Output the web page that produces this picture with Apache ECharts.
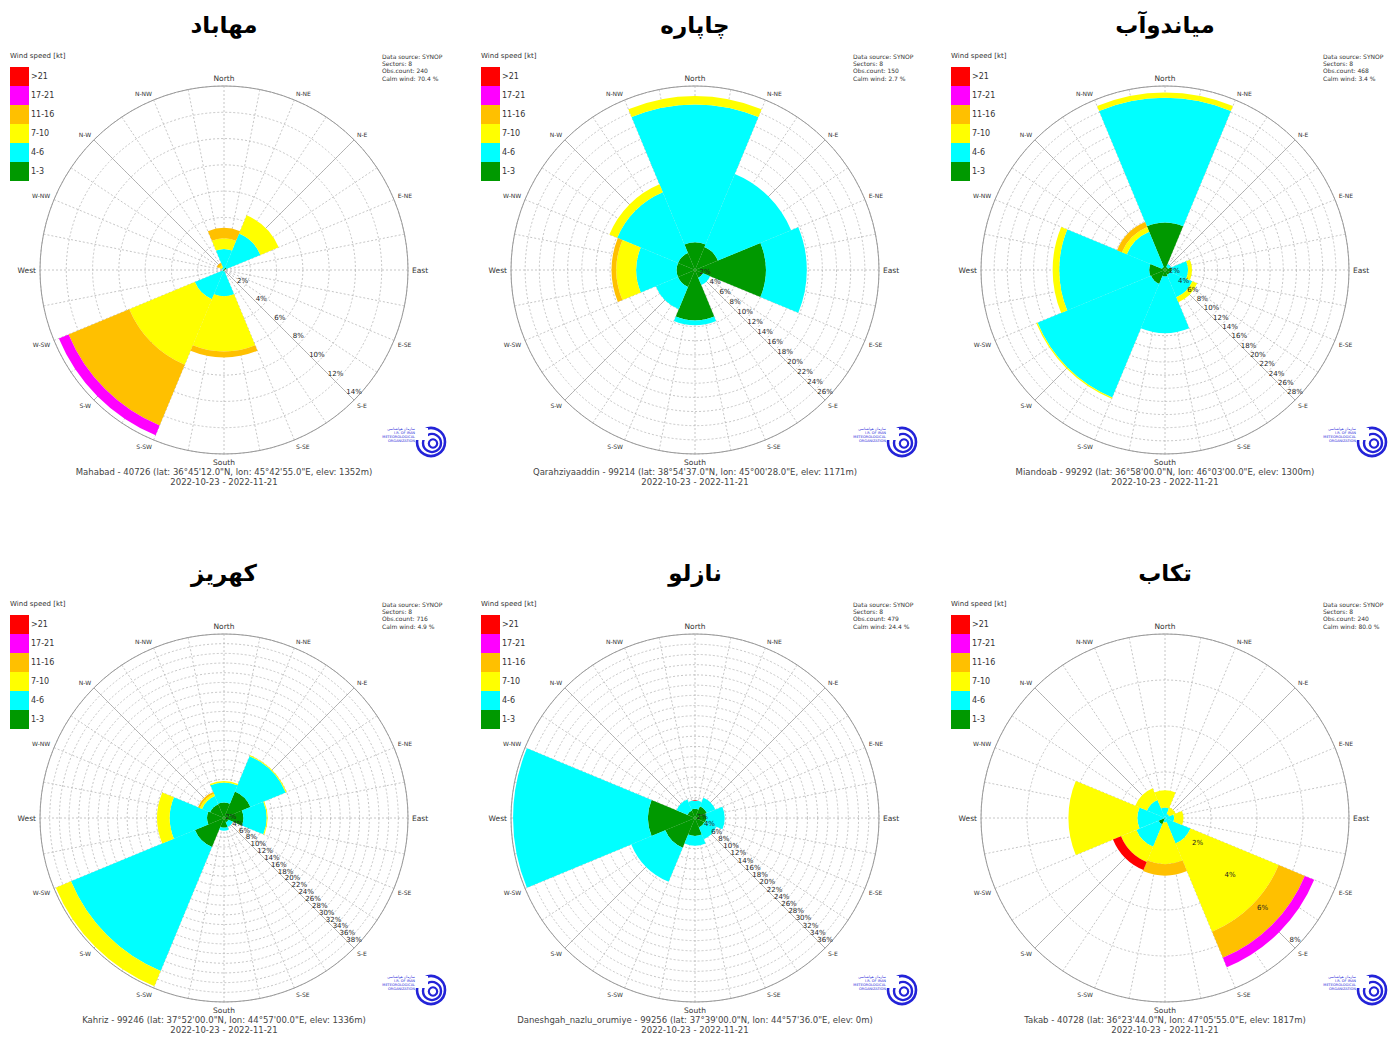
<!DOCTYPE html>
<html><head><meta charset="utf-8">
<script src="https://cdn.jsdelivr.net/npm/echarts@6.0.0/dist/echarts.min.js"></script>
<style>html,body{margin:0;padding:0;background:#fff}#c{width:1388px;height:1046px}</style>
</head><body><div id="c"></div>
<script>
// ---- categories / labels ----
const directions = ['N','NE','E','SE','S','SW','W','NW'];
const compassLabels = ['North','N-NE','N-E','E-NE','East','E-SE','S-E','S-SE','South','S-SW','S-W','W-SW','West','W-NW','N-W','N-NW'];
const speedClasses = ['1-3','4-6','7-10','11-16','17-21','>21'];
const speedColors = ['#009900','#00ffff','#ffff00','#ffc000','#ff00ff','#ff0000'];

const titles = ['مهاباد','چاپاره','میاندوآب','کهریز','نازلو','تکاب'];
const stationLines = [
  'Mahabad - 40726 (lat: 36°45\'12.0"N, lon: 45°42\'55.0"E, elev: 1352m)',
  'Qarahziyaaddin - 99214 (lat: 38°54\'37.0"N, lon: 45°00\'28.0"E, elev: 1171m)',
  'Miandoab - 99292 (lat: 36°58\'00.0"N, lon: 46°03\'00.0"E, elev: 1300m)',
  'Kahriz - 99246 (lat: 37°52\'00.0"N, lon: 44°57\'00.0"E, elev: 1336m)',
  'Daneshgah_nazlu_orumiye - 99256 (lat: 37°39\'00.0"N, lon: 44°57\'36.0"E, elev: 0m)',
  'Takab - 40728 (lat: 36°23\'44.0"N, lon: 47°05\'55.0"E, elev: 1817m)'
];
const dateRange = '2022-10-23 - 2022-11-21';
const obsCounts = [240, 150, 468, 716, 479, 240];
const calmWinds = ['70.4', '2.7', '3.4', '4.9', '24.4', '80.0'];
const radiusMax = [14, 26, 28, 38, 36, 8];   // outer ring value (%), tick labels every 2%

// ---- frequencies (%) per sector N,NE,E,SE,S,SW,W,NW ----
const mahabad_1_3   = [0.1, 0.2, 0, 0, 0.1, 0.1, 0, 0];
const mahabad_4_6   = [1.5, 2.8, 0, 0, 1.9, 2.3, 0.1, 0.2];
const mahabad_7_10  = [0.8, 1.5, 0, 0, 4.2, 5.4, 0, 0.2];
const mahabad_11_16 = [0.8, 0, 0, 0, 0.45, 5.0, 0, 0.2];
const mahabad_17_21 = [0, 0, 0, 0, 0, 0.8, 0, 0];
const mahabad_21p   = [0, 0, 0, 0, 0, 0, 0, 0];

const chapareh_1_3   = [3.9, 3.5, 10.0, 1.2, 7.1, 2.6, 2.6, 2.6];
const chapareh_4_6   = [19.5, 11.2, 5.8, 1.1, 0.7, 3.4, 5.7, 9.3];
const chapareh_7_10  = [1.2, 0, 0, 0, 0, 0, 2.8, 1.2];
const chapareh_11_16 = [0, 0, 0, 0, 0, 0, 0.7, 0];
const chapareh_17_21 = [0, 0, 0, 0, 0, 0, 0, 0];
const chapareh_21p   = [0, 0, 0, 0, 0, 0, 0, 0];

const miandoab_1_3   = [7.2, 0.5, 1.0, 0.8, 1.0, 2.3, 2.4, 0.5];
const miandoab_4_6   = [19.0, 0.5, 2.5, 3.7, 8.6, 18.7, 13.7, 5.8];
const miandoab_7_10  = [0.8, 0, 0.6, 0.8, 0, 0.2, 1.0, 0.8];
const miandoab_11_16 = [0, 0, 0, 0, 0, 0, 0, 0.8];
const miandoab_17_21 = [0, 0, 0, 0, 0, 0, 0, 0];
const miandoab_21p   = [0, 0, 0, 0, 0, 0, 0, 0];

const kahriz_1_3   = [3.2, 5.9, 4.0, 1.0, 2.0, 6.5, 3.5, 3.1];
const kahriz_4_6   = [4.1, 7.9, 4.8, 1.0, 0.6, 27.7, 7.7, 1.8];
const kahriz_7_10  = [0.3, 0.2, 0.2, 0, 0, 3.4, 2.6, 0.5];
const kahriz_11_16 = [0, 0, 0, 0, 0, 0, 0, 0.4];
const kahriz_17_21 = [0, 0, 0, 0, 0, 0, 0, 0];
const kahriz_21p   = [0, 0, 0, 0, 0, 0, 0, 0];

const nazlu_1_3   = [1.8, 2.5, 2.2, 2.0, 3.5, 6.3, 9.2, 1.6];
const nazlu_4_6   = [1.6, 1.8, 3.6, 2.5, 1.9, 7.2, 26.4, 2.3];
const nazlu_7_10  = [0, 0, 0, 0, 0, 0, 0, 0];
const nazlu_11_16 = [0, 0, 0, 0, 0, 0, 0, 0];
const nazlu_17_21 = [0, 0, 0, 0, 0, 0, 0, 0];
const nazlu_21p   = [0, 0, 0, 0, 0, 0, 0, 0];

const takab_1_3   = [0, 0, 0, 0, 0, 0.3, 0, 0];
const takab_4_6   = [0.45, 0.2, 0.4, 1.2, 0.2, 1.05, 1.2, 0.85];
const takab_7_10  = [0.75, 0.3, 0.4, 4.15, 1.8, 0.72, 3.0, 0.55];
const takab_11_16 = [0, 0, 0, 1.23, 0.5, 0, 0, 0];
const takab_17_21 = [0, 0, 0, 0.44, 0, 0, 0, 0];
const takab_21p   = [0, 0, 0, 0, 0, 0.38, 0, 0];

const stationData = [
  [mahabad_1_3, mahabad_4_6, mahabad_7_10, mahabad_11_16, mahabad_17_21, mahabad_21p],
  [chapareh_1_3, chapareh_4_6, chapareh_7_10, chapareh_11_16, chapareh_17_21, chapareh_21p],
  [miandoab_1_3, miandoab_4_6, miandoab_7_10, miandoab_11_16, miandoab_17_21, miandoab_21p],
  [kahriz_1_3, kahriz_4_6, kahriz_7_10, kahriz_11_16, kahriz_17_21, kahriz_21p],
  [nazlu_1_3, nazlu_4_6, nazlu_7_10, nazlu_11_16, nazlu_17_21, nazlu_21p],
  [takab_1_3, takab_4_6, takab_7_10, takab_11_16, takab_17_21, takab_21p]
];

// ---- layout ----
const centersX = [224, 695, 1165];
const centersY = [270, 818];
const R = 184;
const FONT = '"DejaVu Sans", sans-serif';

const option = {
  animation: false,
  textStyle: { fontFamily: FONT },
  polar: [], angleAxis: [], radiusAxis: [], series: [], legend: [], graphic: []
};

const dashed = { color: '#b8b8b8', type: [2, 2], width: 0.8 };

function txt(x, y, text, size, opts) {
  opts = opts || {};
  return {
    type: 'text', x: x, y: y, silent: true, z: 20,
    style: {
      text: text, fill: opts.fill || '#333',
      font: (opts.weight || 'normal') + ' ' + size + 'px ' + (opts.family || FONT),
      align: opts.align || 'left', verticalAlign: 'middle',
      textAlign: opts.align || 'left', textVerticalAlign: 'middle'
    }
  };
}

for (let i = 0; i < 6; i++) {
  const cx = centersX[i % 3], cy = centersY[Math.floor(i / 3)];
  const M = radiusMax[i];
  const b = i * 4;
  option.polar.push({ center: [cx, cy], radius: R });
  option.polar.push({ center: [cx, cy], radius: R });
  option.polar.push({ center: [cx, cy], radius: R });
  option.polar.push({ center: [cx, cy - 8], radius: R });   // label polar, text sits just above the SE spoke

  // polar A: dashed spokes, rings, outer circle, direction labels
  option.angleAxis.push({
    polarIndex: b, type: 'value', min: 0, max: 360, interval: 11.25, startAngle: 90, clockwise: true,
    axisLine: { show: true, lineStyle: { color: '#9a9a9a', width: 1 } },
    axisTick: { show: false },
    splitLine: { show: true, lineStyle: dashed },
    axisLabel: {
      show: true, margin: 4, color: '#333',
      formatter: function (v) {
        const idx = Math.round(v / 11.25);
        if (idx % 2 !== 0 || idx >= 32) return '';
        const name = compassLabels[idx / 2];
        return (idx % 8 === 0) ? '{c|' + name + '}' : '{s|' + name + '}';
      },
      rich: { c: { fontSize: 7.5, color: '#333', fontFamily: FONT }, s: { fontSize: 6, color: '#333', fontFamily: FONT } }
    }
  });
  option.radiusAxis.push({
    polarIndex: b, type: 'value', min: 0, max: M, interval: 2,
    axisLine: { show: false }, axisTick: { show: false }, axisLabel: { show: false },
    splitLine: { show: true, lineStyle: dashed }
  });

  // polar D: solid diagonal spokes
  option.angleAxis.push({
    polarIndex: b + 1, type: 'value', min: 0, max: 360, interval: 90, startAngle: 45,
    axisLine: { show: false }, axisTick: { show: false }, axisLabel: { show: false },
    splitLine: { show: true, lineStyle: { color: '#a8a8a8', width: 0.8 } }
  });
  option.radiusAxis.push({ polarIndex: b + 1, type: 'value', min: 0, max: M, show: false });

  // polar B: the rose bars
  option.angleAxis.push({ polarIndex: b + 2, type: 'category', data: directions, startAngle: 112.5, show: false });
  option.radiusAxis.push({ polarIndex: b + 2, type: 'value', min: 0, max: M, show: false });

  // polar C: percentage labels along SE
  option.angleAxis.push({ polarIndex: b + 3, type: 'value', min: 0, max: 360, startAngle: -45, show: false });
  option.radiusAxis.push({
    polarIndex: b + 3, type: 'value', min: 0, max: M, interval: 2, z: 10,
    axisLine: { show: false }, axisTick: { show: false }, splitLine: { show: false },
    axisLabel: {
      show: true, showMinLabel: false, showMaxLabel: true, margin: 0,
      align: 'center', verticalAlign: 'middle',
      fontSize: 7, color: '#222',
      formatter: function (v) { return v === 0 ? '' : v + '%'; }
    }
  });

  const data = stationData[i];
  for (let j = 0; j < speedClasses.length; j++) {
    option.series.push({
      type: 'bar', coordinateSystem: 'polar', polarIndex: b + 2,
      name: speedClasses[j], stack: 'rose' + i, data: data[j],
      barCategoryGap: '0%', silent: true, z: 2,
      itemStyle: { color: speedColors[j] }
    });
  }

  option.legend.push({
    orient: 'vertical', left: cx - 214, top: cy - 203, padding: 0,
    itemWidth: 19, itemHeight: 19, itemGap: 0, icon: 'rect', selectedMode: false,
    data: speedClasses.slice().reverse(),
    textStyle: { fontSize: 8, color: '#333', fontFamily: FONT, padding: [0, 0, 0, -3] }
  });

  option.graphic.push(txt(cx - 214, cy - 214, 'Wind speed [kt]', 7));
  const info = ['Data source: SYNOP', 'Sectors: 8', 'Obs.count: ' + obsCounts[i], 'Calm wind: ' + calmWinds[i] + ' %'];
  info.forEach(function (s, k) { option.graphic.push(txt(cx + 158, cy - 214 + k * 7.4, s, 6)); });
  option.graphic.push(txt(cx, cy - 245, titles[i], 23, { align: 'center', weight: 'bold', fill: '#000' }));
  option.graphic.push(txt(cx, cy + 202, stationLines[i], 8.5, { align: 'center', fill: '#444' }));
  option.graphic.push(txt(cx, cy + 212, dateRange, 8.5, { align: 'center', fill: '#444' }));

  // logo (I.R. of Iran Meteorological Organization)
  const blue = '#2323d8';
  option.graphic.push({
    type: 'group', x: cx + 207, y: cy + 172, silent: true, z: 20,
    children: [
      { type: 'circle', shape: { cx: 0, cy: 0, r: 14 }, style: { fill: 'none', stroke: blue, lineWidth: 2.6 } },
      { type: 'circle', shape: { cx: 1, cy: 1, r: 9 }, style: { fill: 'none', stroke: blue, lineWidth: 2.4 } },
      { type: 'circle', shape: { cx: 2, cy: 1.5, r: 4.2 }, style: { fill: 'none', stroke: blue, lineWidth: 2.2 } },
      { type: 'rect', shape: { x: -18, y: -14, width: 15, height: 12 }, style: { fill: '#fff' } },
      { type: 'text', x: -16, y: -15, style: { text: 'سازمان هواشناسی', fill: blue, font: '3.5px ' + FONT, align: 'right', textAlign: 'right' } },
      { type: 'text', x: -16, y: -11, style: { text: 'I.R. OF IRAN', fill: blue, font: '3.5px ' + FONT, align: 'right', textAlign: 'right' } },
      { type: 'text', x: -16, y: -7, style: { text: 'METEOROLOGICAL', fill: blue, font: '3.5px ' + FONT, align: 'right', textAlign: 'right' } },
      { type: 'text', x: -16, y: -3, style: { text: 'ORGANIZATION', fill: blue, font: '3.5px ' + FONT, align: 'right', textAlign: 'right' } }
    ]
  });
}

const chart = echarts.init(document.getElementById('c'), null, { renderer: 'svg', width: 1388, height: 1046 });
chart.setOption(option);
</script>
</body></html>
